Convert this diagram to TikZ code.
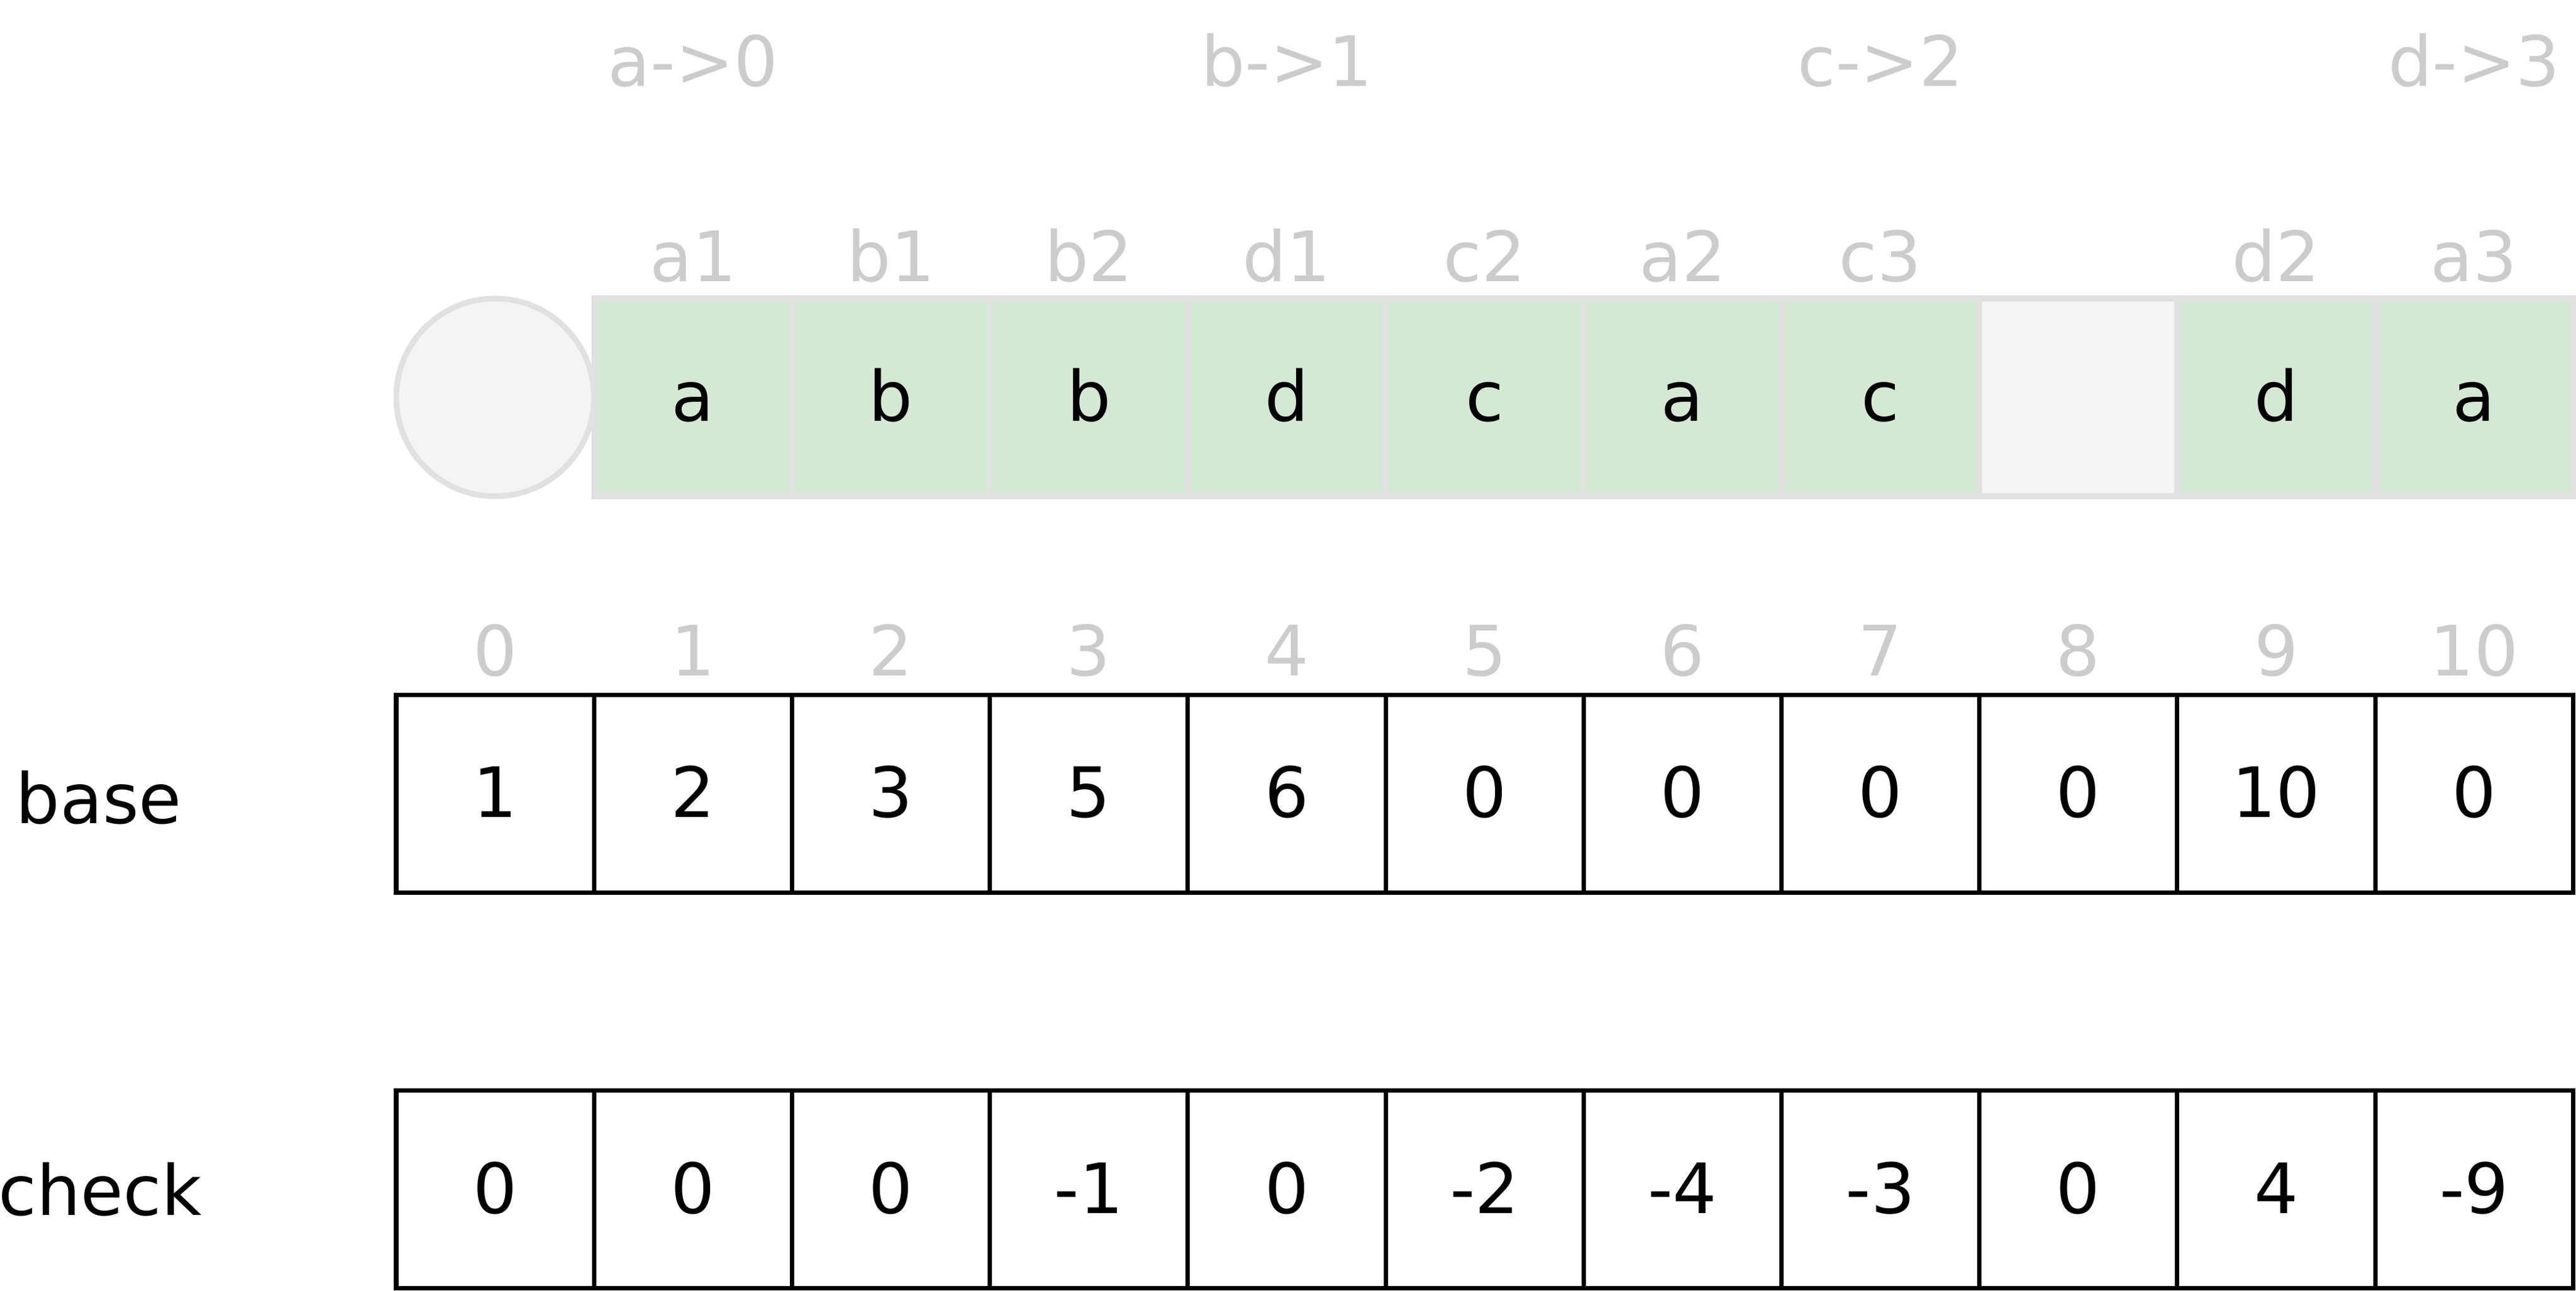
\documentclass[tikz,border=0pt]{standalone}
\usepackage{fontspec}
\setmainfont{DejaVu Sans}
\definecolor{lblgray}{HTML}{CCCCCC}
\definecolor{edgegray}{HTML}{E1E1E1}
\definecolor{emptyfill}{HTML}{F4F4F4}
\definecolor{greenfill}{HTML}{D5E8D4}
\begin{document}
\begin{tikzpicture}[x=1cm,y=1cm,
  txt/.style={font=\fontsize{16}{19}\selectfont, inner sep=0pt, text height=1.1em, text depth=0pt},
  cellbox/.style={txt, draw=black, line width=1pt, minimum width=1.601cm, minimum height=1.6cm},
  greenbox/.style={txt, draw=edgegray, fill=greenfill, line width=1.3pt, minimum width=1.601cm, minimum height=1.6cm},
  emptybox/.style={greenbox, fill=emptyfill},
  rootnode/.style={circle, draw=edgegray, fill=emptyfill, line width=1.3pt, minimum size=1.6cm, inner sep=0pt},
  idx/.style={txt, text=lblgray},
  rowlabel/.style={txt}
]
\useasboundingbox (0,0) rectangle (20.84,-10.44);
% root and green row
\node[rootnode] (root) at (4.0055,-3.215) {};
\foreach \i/\t/\l in {1/a/a1,2/b/b1,3/b/b2,4/d/d1,5/c/c2,6/a/a2,7/c/c3,9/d/d2,10/a/a3}{
  \node[greenbox] (g\i) at ({4.0055+1.601*\i},-3.215) {\t};
  \node[idx] (gl\i) at ({4.0055+1.601*\i},-2.085) {\l};
}
\node[emptybox] (g8) at ({4.0055+1.601*8},-3.215) {};
% top mapping labels
\foreach \i/\l in {1/a->0,4/b->1,7/c->2,10/d->3}
  \node[idx] (m\i) at ({4.0055+1.601*\i},-0.505) {\l};
% index labels
\foreach \i in {0,...,10}
  \node[idx] (ix\i) at ({4.0055+1.601*\i},-5.275) {\i};
% base row
\foreach \v [count=\i from 0] in {1,2,3,5,6,0,0,0,0,10,0}
  \node[cellbox] (b\i) at ({4.0055+1.601*\i},-6.42) {\v};
% check row
\foreach \v [count=\i from 0] in {0,0,0,-1,0,-2,-4,-3,0,4,-9}
  \node[cellbox] (c\i) at ({4.0055+1.601*\i},-9.6225) {\v};
\node[rowlabel] (baselbl) at (0.8,-6.47) {base};
\node[rowlabel] (checklbl) at (0.81,-9.64) {check};
\end{tikzpicture}
\end{document}
